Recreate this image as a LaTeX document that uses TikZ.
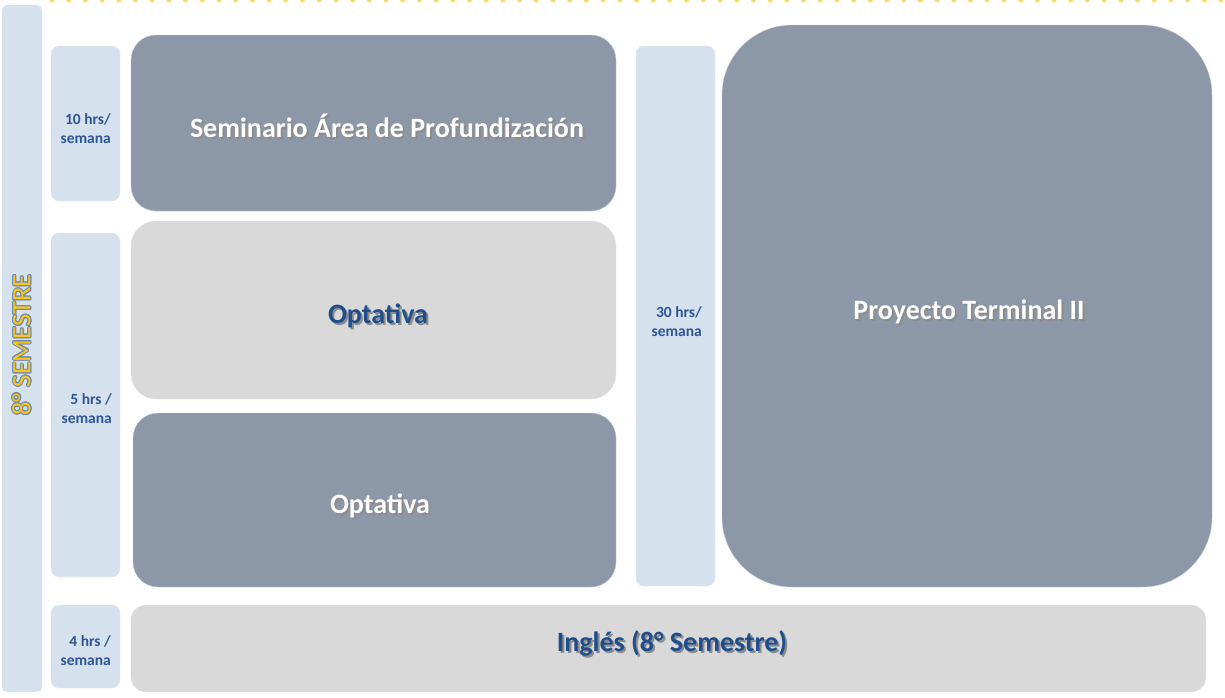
\documentclass[tikz,border=0pt]{standalone}
\usepackage{fontspec}
\setmainfont{Carlito}
\usepackage{xcolor}
\usepackage{contour}
\usetikzlibrary{positioning}
\definecolor{hrsfill}{RGB}{214,225,238}
\definecolor{hrstext}{RGB}{47,85,151}
\definecolor{slate}{RGB}{140,152,168}
\definecolor{lgray}{RGB}{217,217,217}
\definecolor{optblue}{RGB}{31,78,140}
\definecolor{dotyellow}{RGB}{255,217,102}
\definecolor{semyellow}{RGB}{250,200,20}
\contourlength{1pt}
% text with a small drop shadow
\newcommand\shtxt[2]{\makebox[0pt][l]{\hspace{2pt}\raisebox{-2pt}{\textcolor{black!45}{#2}}}\textcolor{#1}{#2}}
% two right aligned lines, baseline on the last one
\newcommand\hrstack[2]{\begin{tabular}[b]{@{}r@{}}#1\\#2\end{tabular}}

\begin{document}
\begin{tikzpicture}[x=1pt,y=-1pt,
    hrs/.style={fill=hrsfill, draw=hrsfill!70!white, rounded corners=8pt, inner sep=0pt},
    hrstxt/.style={anchor=base east, inner sep=0pt, text=hrstext,
        font=\fontsize{15.5}{18.5}\selectfont\bfseries},
    dark/.style={fill=slate, draw=slate!50!white, rounded corners=25pt, inner sep=0pt},
    light/.style={fill=lgray, draw=lgray!60!white, rounded corners=25pt, inner sep=0pt},
    subj/.style={anchor=base, inner sep=0pt, font=\fontsize{28}{32}\selectfont\bfseries}]
    \useasboundingbox (0,0) rectangle (1225,697);

    % dotted top line
    \coordinate (t1) at (52,0);
    \coordinate (t2) at (1225,0);
    \draw[dotyellow, line width=5pt, line cap=round, dash pattern=on 0pt off 16.7pt] (t1) -- (t2);

    % semester bar
    \node[fill=hrsfill, rounded corners=5pt, minimum width=40pt, minimum height=687pt, inner sep=0pt] (sem) at (22,348.5) {};
    \node[rotate=90, font=\fontsize{26.5}{30}\selectfont] (semtxt) at (22,345) {\contour{hrstext!70!white}{\textcolor{semyellow}{8° SEMESTRE}}};

    % hours
    \node[hrs, minimum width=69pt, minimum height=155pt] (h10) at (85.5,123.5) {};
    \node[hrs, minimum width=69pt, minimum height=344pt] (h5) at (85.5,405) {};
    \node[hrs, minimum width=69pt, minimum height=83pt] (h4) at (85.5,646.5) {};
    \node[hrs, minimum width=79pt, minimum height=540pt] (h30) at (675.5,316) {};
    \node[hrstxt] (h10txt) at (111,143) {\hrstack{10 hrs/}{semana}};
    \node[hrstxt] (h5txt) at (112,423) {\hrstack{5 hrs /}{semana}};
    \node[hrstxt] (h4txt) at (111,665) {\hrstack{4 hrs /}{semana}};
    \node[hrstxt] (h30txt) at (702,336) {\hrstack{30 hrs/}{semana}};

    % subjects
    \node[dark, minimum width=485pt, minimum height=176pt] (sap) at (373.5,123) {};
    \node[light, minimum width=485pt, minimum height=178pt] (opt1) at (373.5,310) {};
    \node[dark, minimum width=483pt, minimum height=174pt] (opt2) at (374.5,500) {};
    \node[dark, rounded corners=70pt, minimum width=490pt, minimum height=562pt] (pt2) at (967,306) {};
    \node[light, rounded corners=15pt, minimum width=1075pt, minimum height=87pt] (ing) at (668.5,648.5) {};

    \node[subj] (saptxt) at (387,137) {\shtxt{white}{Seminario Área de Profundización}};
    \node[subj] (opt1txt) at (378,323) {\shtxt{optblue}{Optativa}};
    \node[subj] (opt2txt) at (380,513) {\shtxt{white}{Optativa}};
    \node[subj] (pt2txt) at (969,319) {\shtxt{white}{Proyecto Terminal II}};
    \node[subj] (ingtxt) at (672,651) {\shtxt{optblue}{Inglés (8° Semestre)}};
\end{tikzpicture}
\end{document}
